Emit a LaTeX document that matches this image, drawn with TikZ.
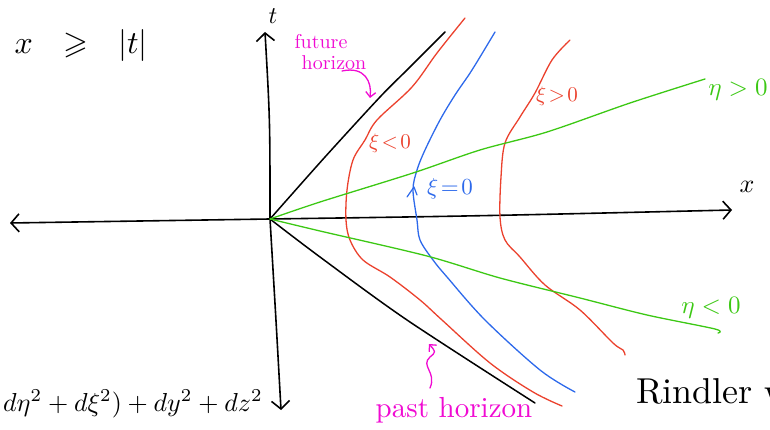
\documentclass[tikz,border=0pt]{standalone}
\usepackage{amssymb}
\usepackage{graphicx}
\usetikzlibrary{arrows.meta}
\definecolor{hred}{RGB}{235,65,45}
\definecolor{hblue}{RGB}{45,105,235}
\definecolor{hgreen}{RGB}{60,200,20}
\definecolor{hmag}{RGB}{240,10,210}
\newcommand{\sz}[2]{\scalebox{#1}{#2}}
\begin{document}
\begin{tikzpicture}[x=1pt,y=-1pt,line cap=round,line join=round,
  axis/.style={black,line width=1.6pt,-{Straight Barb[length=8pt,width=18pt,line width=1.6pt]}},
  horiz/.style={black,line width=1.5pt},
  xiline/.style={line width=1.3pt},
  etaline/.style={hgreen,line width=1.3pt},
  lab/.style={inner sep=0pt,anchor=center},
  note/.style={hmag,line width=1.3pt,-{Straight Barb[length=5pt,width=10pt,line width=1.3pt]}}]
\useasboundingbox (0,0) rectangle (770,430);

\coordinate (O) at (270,219);
\coordinate (xl) at (10,223);
\coordinate (xr) at (732,210);
\coordinate (tt) at (265,32);
\coordinate (tb) at (281,410);

% axes
\draw[axis] (O) -- (xl);
\draw[axis] (O) .. controls (478,216) .. (xr);
\draw[axis] (O) .. controls (270,120) .. (tt);
\draw[axis] (O) .. controls (276,320) .. (tb);
\node[lab] (tlab) at (273,16) {\sz{2.4}{$t$}};
\node[lab] (xlab) at (747,187) {\sz{2.6}{$x$}};

% horizons
\coordinate (fh) at (445,32);
\coordinate (ph) at (535,403);
\draw[horiz] plot[smooth,tension=0.5] coordinates {(O) (325,157) (380,97) (407,70) (427,50) (fh)};
\draw[horiz] plot[smooth,tension=0.5] coordinates {(O) (320,257) (407,320) (ph)};

% xi lines
\draw[xiline,hred] plot[smooth,tension=0.55] coordinates {(465,18) (437,53) (412,87) (377,120) (365,140) (353,160) (347,190) (346,220) (350,240) (363,260) (390,277) (420,300) (442,320) (490,363) (533,392) (562,406)};
\draw[xiline,hblue] plot[smooth,tension=0.55] coordinates {(495,32) (472,70) (455,95) (440,120) (425,150) (417,170) (413,190) (417,220) (420,240) (433,260) (447,277) (485,320) (540,370) (575,392)};
\draw[xiline,hred] plot[smooth,tension=0.55] coordinates {(570,40) (552,60) (535,93) (520,117) (505,143) (501,177) (500,217) (505,240) (520,257) (545,285) (580,310) (613,343) (623,350) (625,355)};

% eta lines
\draw[etaline] plot[smooth,tension=0.5] coordinates {(O) (320,202) (413,173) (480,150) (547,132) (630,103) (705,79)};
\draw[etaline] plot[smooth,tension=0.5] coordinates {(O) (320,231) (427,256) (500,278) (580,298) (647,315) (715,329) (718,333)};

% labels
\node[lab] (ineq) at (81,46) {\sz{3.2}{$x\ \ \geqslant\ \ |t|$}};
\node[lab,hred] (xineg) at (390,143) {\sz{2.1}{$\xi\!<\!0$}};
\node[lab,hblue] (xizero) at (450,189) {\sz{2.3}{$\xi\!=\!0$}};
\node[lab,hred] (xipos) at (557,96) {\sz{2.1}{$\xi\!>\!0$}};
\node[lab,hgreen] (etapos) at (738,90) {\sz{2.5}{$\eta>0$}};
\node[lab,hgreen] (etaneg) at (711,308) {\sz{2.5}{$\eta<0$}};
\draw[hblue,line width=1.2pt] (407,197) -- (414,187) -- (417,195);

\node[lab,hmag] (fhlab1) at (321,42) {\sz{2.0}{future}};
\node[lab,hmag] (fhlab2) at (334,63) {\sz{2.0}{horizon}};
\coordinate (fha) at (370,98);
\draw[note] (342,71) .. controls (365,66) and (372,82) .. (fha);

\node[lab,hmag] (phlab) at (454,410) {\sz{2.9}{past horizon}};
\coordinate (pha) at (429,344);
\draw[note] (430,388) .. controls (437,372) and (420,366) .. (430,357) .. controls (436,352) .. (pha);

\node[lab] (metric) at (133,404) {\sz{2.6}{$d\eta^2+d\xi^2)+dy^2+dz^2$}};
\node[lab,anchor=west] (rind) at (636,391) {\sz{3.6}{Rindler w}};
\end{tikzpicture}
\end{document}
